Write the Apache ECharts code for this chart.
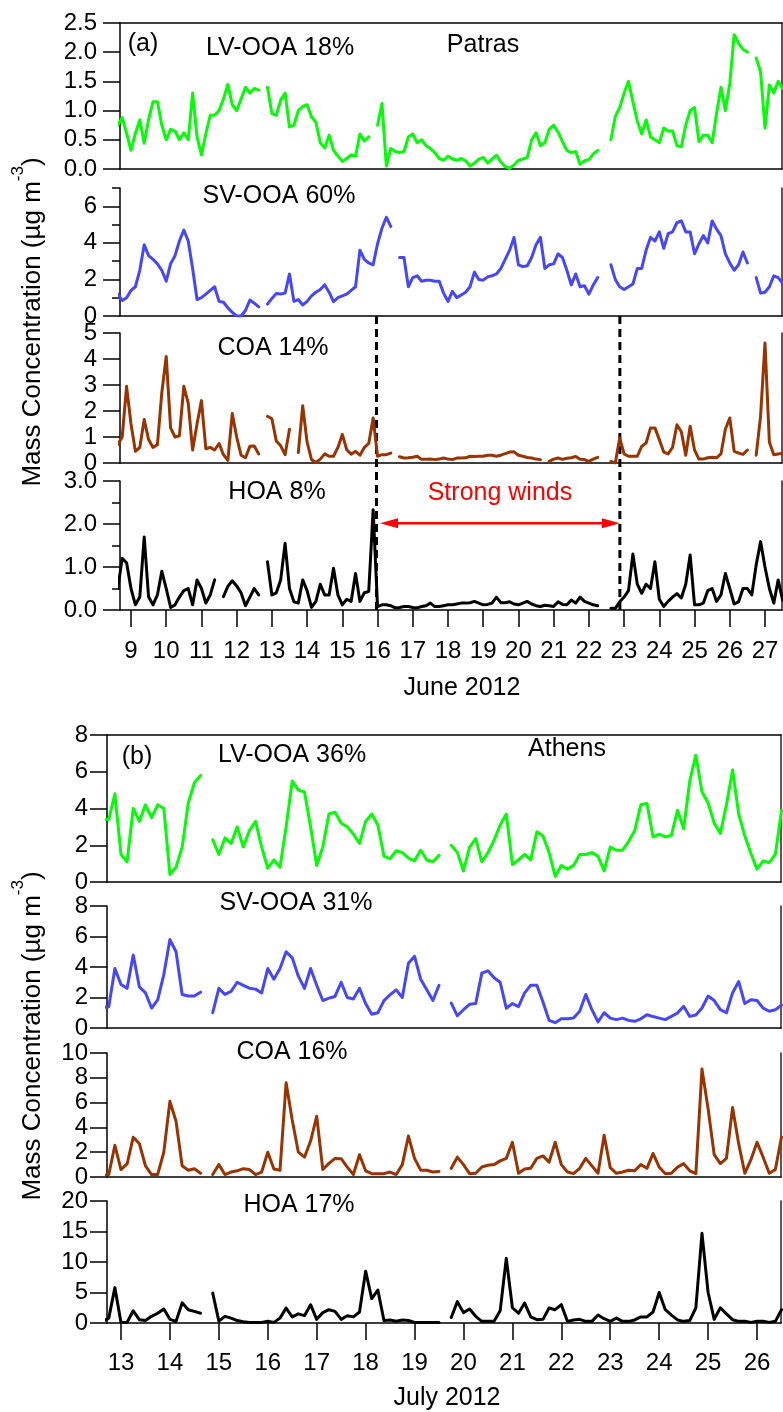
<!DOCTYPE html>
<html>
<head>
<meta charset="utf-8">
<script src="https://cdn.jsdelivr.net/npm/echarts@6/dist/echarts.min.js"></script>
<style>
  html, body { margin: 0; padding: 0; background: #fff; }
  #c { width: 783px; height: 1412px; }
</style>
</head>
<body>
<div id="c"></div>
<script>
// ---- Patras, June 2012: 3-hourly values, first sample 8 June 15:00 ----
const patrasStart = 8.625;
const patrasStep = 0.125;
const patrasLVOOA = [
  0.75,0.88,0.61,0.32,0.61,0.84,0.44,0.85,1.15,1.15,
  0.75,0.5,0.68,0.65,0.5,0.62,0.5,1.3,0.55,0.24,
  0.6,0.92,0.92,1.0,1.2,1.45,1.1,1.0,1.2,1.4,
  1.3,1.38,1.35,null,1.4,0.95,0.92,1.18,1.3,0.72,
  0.75,1.0,1.07,1.1,0.89,0.8,0.45,0.36,0.58,0.32,
  0.22,0.13,0.18,0.24,0.22,0.6,0.48,0.55,null,0.75,
  1.12,0.05,0.35,0.3,0.28,0.3,0.55,0.6,0.45,0.5,
  0.4,0.35,0.28,0.18,0.15,0.22,0.17,0.15,0.18,0.14,
  0.05,0.1,0.17,0.2,0.1,0.17,0.24,0.12,0.04,0.01,
  0.07,0.15,0.17,0.2,0.5,0.62,0.4,0.45,0.68,0.75,
  0.63,0.47,0.32,0.28,0.3,0.08,0.14,0.16,0.26,0.32,
  null,null,0.5,0.9,1.05,1.3,1.5,1.15,0.82,0.6,
  0.84,0.55,0.5,0.45,0.7,0.65,0.65,0.4,0.38,0.75,
  1.0,1.05,0.47,0.58,0.58,0.45,0.95,1.4,1.0,1.46,
  2.3,2.15,2.05,2.0,null,1.9,1.66,0.7,1.44,1.3,
  1.5,1.38
];
const patrasSVOOA = [
  1.2,0.85,1.0,1.4,1.6,2.5,3.9,3.3,3.1,2.85,
  2.5,1.9,2.86,3.3,4.1,4.7,4.1,2.6,0.9,1.0,
  1.2,1.4,1.6,0.8,0.75,0.45,0.2,0.0,0.0,0.3,
  0.87,0.7,0.5,null,0.65,0.96,1.23,1.2,1.25,2.3,
  0.8,0.9,0.6,0.8,1.1,1.3,1.45,1.7,1.3,0.78,
  1.0,1.1,1.2,1.4,1.6,3.6,3.1,2.9,2.8,3.95,
  4.8,5.4,4.9,null,3.2,3.2,1.6,2.1,2.2,1.9,
  1.95,1.95,1.9,1.9,1.25,0.8,1.35,1.0,1.15,1.3,
  1.6,2.4,2.0,1.96,2.14,2.2,2.3,2.6,3.1,3.6,
  4.3,2.8,2.7,2.75,3.2,3.9,4.3,2.6,2.8,2.85,
  3.4,3.2,2.5,1.7,2.3,1.6,1.65,1.2,1.7,2.1,
  null,null,2.8,2.0,1.6,1.45,1.6,1.75,2.6,2.6,
  3.6,4.3,4.1,4.6,3.7,4.5,4.6,5.1,5.2,4.6,
  4.6,3.4,3.95,4.4,4.0,5.2,4.75,4.4,3.4,2.9,
  2.5,2.8,3.5,2.9,null,2.1,1.25,1.3,1.6,2.2,
  2.1,1.78
];
const patrasCOA = [
  0.7,1.0,2.95,1.5,0.45,0.6,1.67,0.9,0.6,0.7,
  2.7,4.1,1.35,1.0,1.05,2.95,2.3,0.5,1.5,2.4,
  0.55,0.6,0.5,0.75,0.32,0.1,1.9,1.0,0.3,0.2,
  0.64,0.65,0.35,null,1.8,1.7,0.85,0.66,0.32,1.3,
  null,0.4,2.2,0.8,0.13,0.02,0.15,0.35,0.26,0.26,
  0.6,1.1,0.51,0.34,0.45,0.3,0.6,0.75,1.73,0.26,
  0.32,0.32,0.38,null,0.24,0.19,0.2,0.22,0.26,0.14,
  0.14,0.15,0.13,0.15,0.19,0.15,0.13,0.19,0.19,0.2,
  0.26,0.25,0.26,0.26,0.3,0.3,0.26,0.3,0.36,0.42,
  0.43,0.3,0.26,0.21,0.19,0.15,0.13,null,0.06,0.15,
  0.19,0.14,0.18,0.2,0.25,0.14,0.13,0.06,0.15,0.22,
  null,null,0.06,0.0,0.96,0.35,0.26,0.26,0.26,0.64,
  0.77,1.35,1.35,0.9,0.42,0.35,0.6,1.47,1.2,0.3,
  1.41,0.5,0.15,0.15,0.2,0.22,0.2,0.35,1.3,1.73,
  0.45,0.38,0.33,0.5,null,0.3,1.8,4.62,0.8,0.32,
  0.35,0.38
];
const patrasHOA = [
  0.5,1.2,1.1,0.5,0.12,0.3,1.7,0.3,0.12,0.35,
  0.9,0.5,0.06,0.12,0.3,0.45,0.5,0.12,0.7,0.5,
  0.16,0.35,0.7,null,0.31,0.55,0.68,0.56,0.4,0.1,
  0.3,0.5,0.35,null,1.12,0.35,0.4,0.7,1.55,0.5,
  0.19,0.16,0.7,0.45,0.06,0.2,0.6,0.35,0.35,0.97,
  0.35,0.12,0.25,0.2,0.85,0.2,0.4,0.43,2.33,0.08,
  0.12,0.12,0.1,0.05,0.06,0.08,0.08,0.06,0.05,0.08,
  0.1,0.16,0.08,0.08,0.1,0.12,0.12,0.14,0.16,0.16,
  0.17,0.2,0.16,0.12,0.13,0.16,0.3,0.17,0.17,0.19,
  0.14,0.12,0.16,0.2,0.14,0.1,0.08,0.11,0.1,0.08,
  0.19,0.13,0.12,0.23,0.16,0.3,0.2,0.16,0.12,0.1,
  null,null,0.04,0.04,0.19,0.3,0.45,1.3,0.6,0.39,
  0.6,0.5,1.12,0.25,0.08,0.2,0.3,0.38,0.28,0.6,
  1.28,0.12,0.12,0.16,0.45,0.5,0.2,0.35,0.85,0.5,
  0.14,0.19,0.5,0.5,0.35,1.05,1.59,1.0,0.5,0.16,
  0.7,0.23
];

// ---- Athens, July 2012: 3-hourly values, first sample 12 July 15:00 ----
const athensStart = 12.625;
const athensStep = 0.125;
const athensLVOOA = [
  3.4,3.4,4.8,1.5,1.1,4.0,3.3,4.2,3.5,4.2,
  4.0,0.4,0.8,1.9,4.3,5.4,5.8,null,2.3,1.5,
  2.4,2.1,3.0,1.9,2.8,3.3,1.9,0.75,1.2,0.8,
  3.0,5.5,5.0,4.9,3.0,0.9,1.9,3.7,3.8,3.2,
  3.0,2.6,2.1,3.3,3.7,3.1,1.4,1.27,1.7,1.6,
  1.3,1.15,1.73,1.2,1.1,1.45,null,2.0,1.6,0.6,
  1.9,2.36,1.1,1.6,2.27,3.1,3.7,0.95,1.2,1.5,
  1.2,2.73,2.5,1.6,0.3,0.9,0.7,0.9,1.5,1.5,
  1.6,1.4,0.6,1.9,1.73,1.73,2.2,2.8,4.2,4.27,
  2.45,2.6,2.45,2.55,3.9,2.9,5.5,6.9,4.9,4.3,
  3.2,2.64,4.2,6.1,3.7,2.5,1.55,0.7,1.15,1.05,
  1.5,3.9
];
const athensSVOOA = [
  1.35,1.4,3.9,2.85,2.6,4.79,2.7,2.3,1.31,1.85,
  3.5,5.8,5.0,2.2,2.1,2.1,2.35,null,1.0,2.6,
  2.2,2.4,3.0,2.8,2.61,2.55,2.3,3.9,3.2,3.9,
  5.0,4.6,3.4,2.6,3.9,2.8,1.8,1.96,2.07,3.0,
  2.0,1.9,2.6,1.6,0.9,1.0,1.8,2.18,2.5,2.0,
  4.25,4.7,3.2,2.51,1.8,2.8,null,1.63,0.8,1.2,
  1.55,1.6,3.6,3.75,3.3,3.0,1.3,1.6,1.4,2.3,
  2.8,2.8,1.7,0.5,0.35,0.6,0.6,0.65,1.1,2.2,
  1.2,0.4,1.0,0.65,0.55,0.65,0.5,0.44,0.6,0.87,
  0.75,0.65,0.55,0.76,0.98,1.42,0.76,0.85,1.31,2.1,
  1.8,1.2,1.0,2.3,3.05,1.6,1.85,1.8,1.3,1.1,
  1.2,1.5
];
const athensCOA = [
  0.1,0.2,2.55,0.6,1.05,3.2,2.7,0.9,0.2,0.2,
  2.0,6.1,4.5,0.9,0.55,0.67,0.3,null,0.2,1.0,
  0.2,0.4,0.5,0.67,0.6,0.2,0.4,2.0,0.65,0.54,
  7.6,4.6,2.0,1.6,2.9,4.9,0.6,1.1,1.5,1.48,
  0.8,0.2,1.8,0.5,0.27,0.27,0.27,0.4,0.2,1.0,
  3.3,1.5,0.55,0.54,0.4,0.45,null,0.7,1.6,1.0,
  0.27,0.3,0.81,0.95,1.0,1.3,1.5,2.8,0.3,0.65,
  0.7,1.5,1.7,1.2,2.8,1.0,0.4,0.27,0.7,1.5,
  0.9,0.3,3.36,0.75,0.3,0.4,0.54,0.5,1.0,0.7,
  1.9,0.8,0.27,0.3,0.8,1.08,0.5,0.27,8.7,5.5,
  1.8,1.08,1.5,5.6,2.69,0.3,1.4,2.8,1.6,0.3,
  0.6,3.23
];
const athensHOA = [
  0.2,0.8,5.8,0.1,0.1,2.0,0.54,0.4,1.1,1.6,
  2.3,0.6,0.27,3.3,2.18,1.9,1.6,null,4.9,0.3,
  1.09,0.8,0.4,0.2,0.1,0.1,0.1,0.27,0.1,0.8,
  2.45,1.0,1.5,1.2,3.0,0.6,1.7,2.18,1.9,0.6,
  1.2,1.0,1.8,8.5,4.0,5.4,0.4,0.5,0.3,0.5,
  0.4,0.1,0.1,0.1,0.1,0.1,null,0.9,3.5,1.7,
  2.3,1.1,0.27,0.27,0.27,2.0,10.6,2.5,1.6,3.27,
  1.0,0.54,0.6,2.45,2.18,3.0,0.27,0.5,0.6,0.27,
  0.27,1.3,0.7,0.27,0.8,0.27,0.27,0.5,1.0,1.0,
  1.8,5.0,2.18,1.3,0.5,0.27,0.4,2.5,14.7,5.0,
  0.6,2.5,1.5,0.54,0.27,0.27,0.1,0.27,0.27,0.1,
  0.27,2.18
];

// ---- tick labels ----
const patrasDays = [9,10,11,12,13,14,15,16,17,18,19,20,21,22,23,24,25,26,27];
const athensDays = [13,14,15,16,17,18,19,20,21,22,23,24,25,26];
const patrasYTicks = [[0,0.5,1,1.5,2,2.5],[0,2,4,6],[0,1,2,3,4,5],[0,1,2,3]];
const patrasYMinor = [[],[1,3,5,7],[],[0.5,1.5,2.5]];
const patrasYMax = [2.5,7,5,3];
const athensYTicks = [[0,2,4,6,8],[0,2,4,6,8],[0,2,4,6,8,10],[0,5,10,15,20]];
const athensYMax = [8,8,10,20];

// strong-wind period in Patras (days of June) and arrow level on the HOA scale
const windDays = [15.97, 22.88];
const windArrow = [16.07, 22.88, 2.02];

const FONT = '"Liberation Sans", Arial, Helvetica, sans-serif';
const INK = '#000';
const COLORS = ['#00ff00', '#4646ff', '#993300', '#000000'];

const patrasSeries = [patrasLVOOA, patrasSVOOA, patrasCOA, patrasHOA];
const athensSeries = [athensLVOOA, athensSVOOA, athensCOA, athensHOA];

const panels = [
  { xRange: [8.688, 27.483], left: 120, right: 1, tops: [23, 188, 333, 481], heights: [146, 128, 130, 129],
    series: patrasSeries, start: patrasStart, step: patrasStep, days: patrasDays,
    ticks: patrasYTicks, minor: patrasYMinor, ymax: patrasYMax, decimals: [1, 0, 0, 1],
    yMargin: 23, xMargin: 29 },
  { xRange: [12.714, 26.49], left: 107, right: 2, tops: [735, 906, 1053, 1201], heights: [147, 122, 124, 122],
    series: athensSeries, start: athensStart, step: athensStep, days: athensDays,
    ticks: athensYTicks, minor: [[], [], [], []], ymax: athensYMax, decimals: [0, 0, 0, 0],
    yMargin: 19, xMargin: 28 }
];

const grid = [], xAxis = [], yAxis = [], series = [];
const idx = [];   // axis indices per subplot

panels.forEach(function (p) {
  for (let k = 0; k < 4; k++) {
    const g = grid.length;
    grid.push({ left: p.left, right: p.right, top: p.tops[k], height: p.heights[k] });
    const isBottom = (k === 3);
    const lineStyle = { color: INK, width: 1.5 };

    const xi = xAxis.length;
    xAxis.push({
      gridIndex: g, type: 'value', min: p.xRange[0], max: p.xRange[1], position: 'bottom',
      axisLine: { show: true, onZero: false, lineStyle: lineStyle },
      axisTick: isBottom ? { show: true, inside: false, length: 17, customValues: p.days, lineStyle: lineStyle } : { show: false },
      axisLabel: isBottom ? { show: true, customValues: p.days, margin: p.xMargin, fontSize: 24, fontFamily: FONT, color: INK } : { show: false },
      splitLine: { show: false }
    });
    if (k === 0) {
      // closing line along the top of the first subplot
      xAxis.push({
        gridIndex: g, type: 'value', min: p.xRange[0], max: p.xRange[1], position: 'top',
        axisLine: { show: true, onZero: false, lineStyle: lineStyle },
        axisTick: { show: false }, axisLabel: { show: false }, splitLine: { show: false }
      });
    }

    const yi = yAxis.length;
    const dec = p.decimals[k];
    yAxis.push({
      gridIndex: g, type: 'value', min: 0, max: p.ymax[k], position: 'left',
      axisLine: { show: true, onZero: false, lineStyle: lineStyle },
      axisTick: { show: true, inside: false, length: 17, customValues: p.ticks[k], lineStyle: lineStyle },
      axisLabel: { show: true, customValues: p.ticks[k], margin: p.yMargin, fontSize: 24, fontFamily: FONT, color: INK,
                   formatter: function (v) { return Number(v).toFixed(dec); } },
      splitLine: { show: false }
    });
    if (p.minor[k].length) {
      yAxis.push({
        gridIndex: g, type: 'value', min: 0, max: p.ymax[k], position: 'left',
        axisLine: { show: false },
        axisTick: { show: true, inside: false, length: 8, customValues: p.minor[k], lineStyle: lineStyle },
        axisLabel: { show: false }, splitLine: { show: false }
      });
    }
    // right-hand frame line
    yAxis.push({
      gridIndex: g, type: 'value', min: 0, max: p.ymax[k], position: 'right',
      axisLine: { show: true, onZero: false, lineStyle: { color: '#222', width: 1.5 } },
      axisTick: { show: false }, axisLabel: { show: false }, splitLine: { show: false }
    });

    const values = p.series[k];
    series.push({
      type: 'line', xAxisIndex: xi, yAxisIndex: yi,
      data: values.map(function (v, i) { return [p.start + i * p.step, v]; }),
      symbol: 'none', showSymbol: false, connectNulls: false, clip: true,
      lineStyle: { color: COLORS[k], width: 3, join: 'round', cap: 'round' },
      itemStyle: { color: COLORS[k] },
      emphasis: { disabled: true }, silent: true, animation: false
    });
    idx.push({ x: xi, y: yi });
  }
});

const chart = echarts.init(document.getElementById('c'), null, { renderer: 'canvas', width: 783, height: 1412 });
chart.setOption({ animation: false, backgroundColor: '#ffffff', grid: grid, xAxis: xAxis, yAxis: yAxis, series: series });

function label(id, text, x, y, color, size) {
  return {
    type: 'text', id: id, x: x, y: y, silent: true,
    style: { text: text, fill: color || INK, font: (size || 25) + 'px ' + FONT,
             align: 'center', verticalAlign: 'middle', textAlign: 'center', textVerticalAlign: 'middle' }
  };
}
function yTitle(id, x, y) {
  return {
    type: 'text', id: id, x: x, y: y, rotation: Math.PI / 2, silent: true,
    style: {
      text: '{n|Mass Concentration (\u00b5g m}{s|-3}{n|)}',
      align: 'center', verticalAlign: 'middle', textAlign: 'center', textVerticalAlign: 'middle',
      fill: INK,
      rich: {
        n: { fontSize: 26, fontFamily: FONT, lineHeight: 46, fill: INK, color: INK },
        s: { fontSize: 17, fontFamily: FONT, lineHeight: 17, verticalAlign: 'top', fill: INK, color: INK }
      }
    }
  };
}

// wind-period markers placed through the Patras axes
const hoaA = idx[3], svA = idx[1];
const yTopDash = chart.convertToPixel({ yAxisIndex: svA.y }, 0);
const yBotDash = chart.convertToPixel({ yAxisIndex: hoaA.y }, 0);
const dashes = windDays.map(function (d, i) {
  const x = chart.convertToPixel({ xAxisIndex: hoaA.x }, d);
  return { type: 'line', id: 'dash' + i, silent: true,
           shape: { x1: x, y1: yTopDash, x2: x, y2: yBotDash },
           style: { stroke: INK, lineWidth: 3, lineDash: [8, 5] } };
});
const ax1 = chart.convertToPixel({ xAxisIndex: hoaA.x }, windArrow[0]);
const ax2 = chart.convertToPixel({ xAxisIndex: hoaA.x }, windArrow[1]);
const ay = chart.convertToPixel({ yAxisIndex: hoaA.y }, windArrow[2]);
const headL = 18, headW = 5;
const arrow = [
  { type: 'line', id: 'arrowLine', silent: true,
    shape: { x1: ax1 + headL - 2, y1: ay, x2: ax2 - headL + 2, y2: ay },
    style: { stroke: '#ff0000', lineWidth: 2.5 } },
  { type: 'polygon', id: 'arrowL', silent: true,
    shape: { points: [[ax1, ay], [ax1 + headL, ay - headW], [ax1 + headL, ay + headW]] },
    style: { fill: '#ff0000' } },
  { type: 'polygon', id: 'arrowR', silent: true,
    shape: { points: [[ax2, ay], [ax2 - headL, ay - headW], [ax2 - headL, ay + headW]] },
    style: { fill: '#ff0000' } },
  label('windText', 'Strong winds', (ax1 + ax2) / 2, ay - 30, '#ff0000', 25)
];

const texts = [
  label('ta', '(a)', 143, 44),
  label('t1', 'LV-OOA 18%', 280, 48),
  label('t2', 'Patras', 483, 45),
  label('t3', 'SV-OOA 60%', 279, 196),
  label('t4', 'COA 14%', 273, 348),
  label('t5', 'HOA 8%', 277, 492),
  label('t6', 'June 2012', 462, 688),
  label('tb', '(b)', 137, 757),
  label('t7', 'LV-OOA 36%', 292, 755),
  label('t8', 'Athens', 567, 749),
  label('t9', 'SV-OOA 31%', 296, 903),
  label('t10', 'COA 16%', 292, 1052),
  label('t11', 'HOA 17%', 299, 1205),
  label('t12', 'July 2012', 447, 1398),
  yTitle('ya', 33, 322),
  yTitle('yb', 33, 1036)
];

chart.setOption({ graphic: { elements: dashes.concat(arrow, texts) } });
</script>
</body>
</html>
